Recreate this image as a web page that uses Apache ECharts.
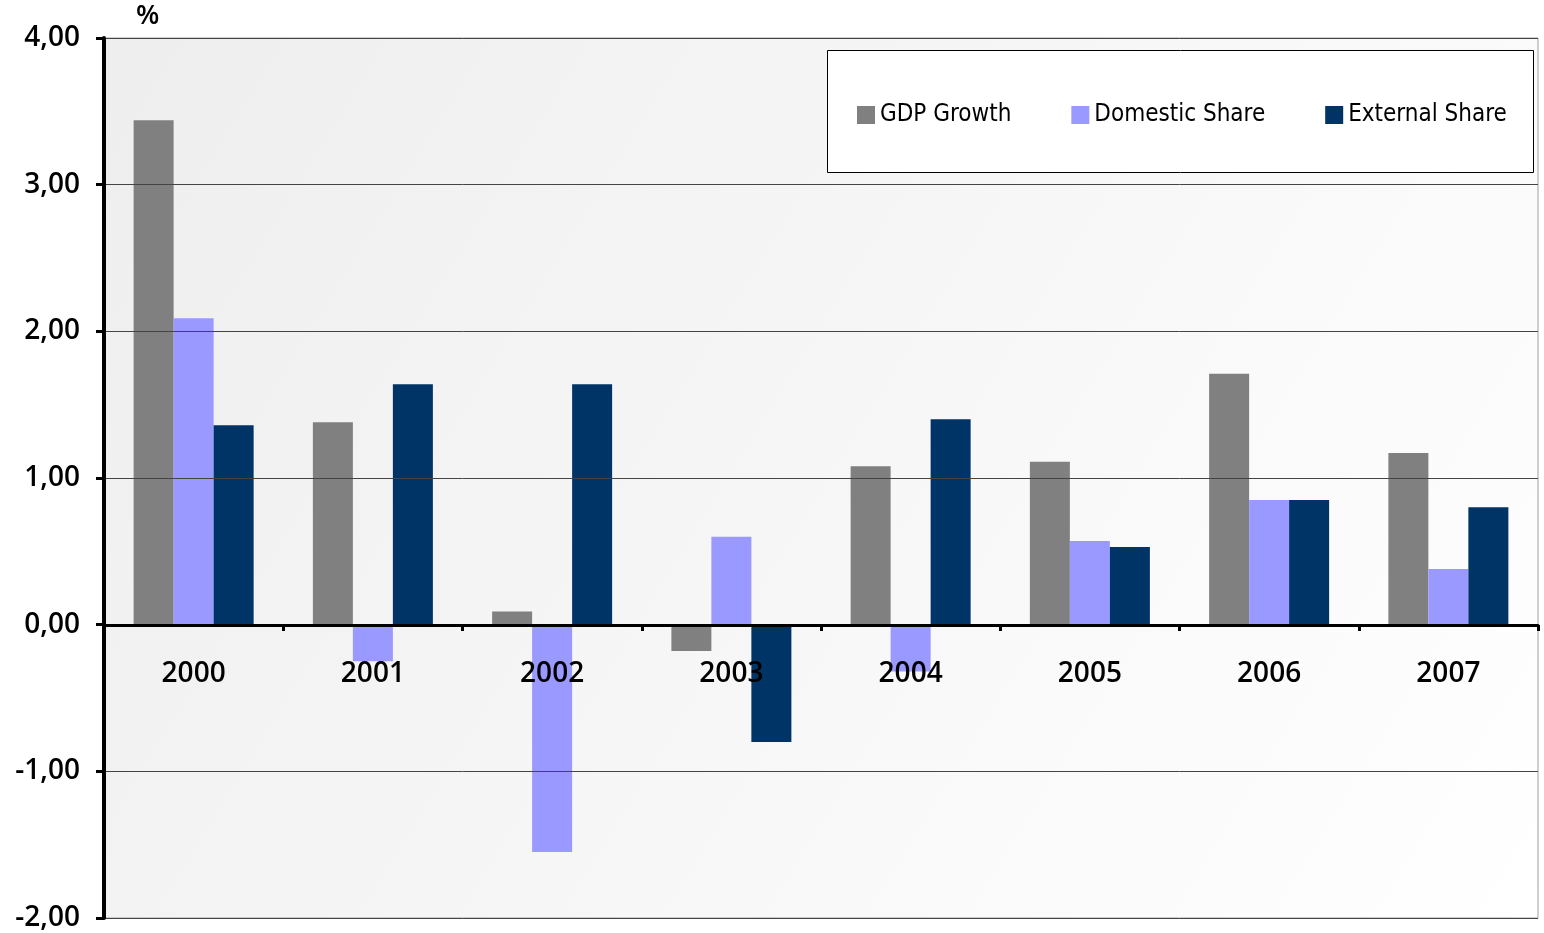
<!DOCTYPE html>
<html>
<head>
<meta charset="utf-8">
<script src="https://cdn.jsdelivr.net/npm/echarts@6/dist/echarts.min.js"></script>
<style>
html,body{margin:0;padding:0;background:#fff;}
#c{width:1544px;height:933px;}
</style>
</head>
<body>
<div id="c"></div>
<script>
var categories = ['2000','2001','2002','2003','2004','2005','2006','2007'];
var gdpGrowth = [3.44, 1.38, 0.09, -0.18, 1.08, 1.11, 1.71, 1.17];
var domesticShare = [2.09, -0.25, -1.55, 0.60, -0.32, 0.57, 0.85, 0.38];
var externalShare = [1.36, 1.64, 1.64, -0.80, 1.40, 0.53, 0.85, 0.80];
var seriesNames = ['GDP Growth', 'Domestic Share', 'External Share'];
var unitLabel = '%';

var chart = echarts.init(document.getElementById('c'));
var axisFont = 'Open Sans';
var legendFont = 'DejaVu Sans Condensed';

function bar(name, data, color) {
  return {
    name: name, type: 'bar', data: data, barWidth: 40, barGap: '0%',
    itemStyle: { color: color }, emphasis: { disabled: true }
  };
}

chart.setOption({
  animation: false,
  backgroundColor: '#ffffff',
  grid: {
    left: 104, right: 6, top: 38, bottom: 15,
    containLabel: false,
    outerBoundsMode: 'none',
    show: true,
    borderColor: '#a0a0a0', borderWidth: 1,
    backgroundColor: {
      type: 'linear', x: 0, y: 0, x2: 1, y2: 1,
      colorStops: [{ offset: 0, color: '#eeeeee' }, { offset: 1, color: '#ffffff' }]
    }
  },
  graphic: [
    { type: 'rect', shape: { x: 827.5, y: 50.5, width: 706, height: 122 },
      style: { fill: '#ffffff', stroke: '#000000', lineWidth: 1 }, z: 5 },
    { type: 'text', left: 136, top: 3,
      style: { text: unitLabel, font: '600 27px "Open Sans"', fill: '#000' }, z: 5 }
  ],
  legend: {
    left: 852, top: 98, z: 10,
    itemWidth: 18, itemHeight: 18, itemGap: 60,
    icon: 'rect',
    textStyle: { fontFamily: legendFont, fontSize: 24, color: '#000' },
    data: seriesNames
  },
  xAxis: {
    type: 'category', data: categories, z: 10,
    offset: -293,
    axisLine: { onZero: false, lineStyle: { color: '#000', width: 3 } },
    axisTick: { show: true, length: 6, lineStyle: { color: '#000', width: 3 } },
    axisLabel: { margin: 35, fontFamily: axisFont, fontWeight: 600, fontSize: 28, color: '#000' },
    splitLine: { show: false }
  },
  yAxis: {
    type: 'value', min: -2, max: 4, interval: 1, z: 10,
    axisLine: { show: true, lineStyle: { color: '#000', width: 4 } },
    axisTick: { show: true, length: 8, lineStyle: { color: '#000', width: 3 } },
    axisLabel: {
      margin: 24, fontFamily: axisFont, fontWeight: 600, fontSize: 28, color: '#000',
      formatter: function (v) { return v.toFixed(2).replace('.', ','); }
    },
    splitLine: { show: true, lineStyle: { color: '#444', width: 1 } }
  },
  series: [
    bar(seriesNames[0], gdpGrowth, '#808080'),
    bar(seriesNames[1], domesticShare, '#9999ff'),
    bar(seriesNames[2], externalShare, '#003366')
  ]
});
</script>
</body>
</html>
